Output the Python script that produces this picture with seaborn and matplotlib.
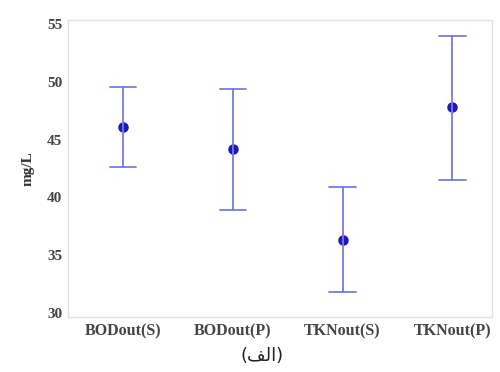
import matplotlib
matplotlib.use("Agg")
import matplotlib.pyplot as plt
import numpy as np
import pandas as pd
import seaborn as sns

# values (mg/L)
categories = ["BODout(S)", "BODout(P)", "TKNout(S)", "TKNout(P)"]
means = [46.1, 44.2, 36.3, 47.8]
lower = [42.6, 38.9, 31.8, 41.5]
upper = [49.6, 49.4, 40.9, 54.0]
y_ticks = [30, 35, 40, 45, 50, 55]

# long form: low / mean / high per group, median = mean, min..max = interval
rows = []
for cat, lo, m, hi in zip(categories, lower, means, upper):
    for v in (lo, m, hi):
        rows.append({"group": cat, "value": v})
df = pd.DataFrame(rows)

sns.set_style("white")
plt.rcParams["font.family"] = ["Liberation Serif", "DejaVu Serif"]

fig = plt.figure(figsize=(5.0, 3.72), dpi=100)
ax = fig.add_axes([0.136, 0.148, 0.848, 0.798])

sns.pointplot(data=df, x="group", y="value", order=categories,
              estimator=np.median, errorbar=lambda v: (v.min(), v.max()),
              linestyle="none", capsize=0.24, color="#1a1ab4",
              marker="o", markersize=5.5,
              err_kws={"color": "#7a7ae6", "linewidth": 1.3}, ax=ax)

ax.set_xlim(-0.5, 3.36)
ax.set_ylim(29.65, 55.35)
ax.set_yticks(y_ticks)
ax.set_yticklabels([str(t) for t in y_ticks])
ax.set_xlabel("")
ax.set_ylabel("mg/L", fontsize=11, fontweight="bold", color="#333333", labelpad=9)
ax.tick_params(axis="both", length=0, colors="#444444")
ax.tick_params(axis="x", pad=5, labelsize=11.5)
ax.tick_params(axis="y", pad=4, labelsize=11)
for lab in ax.get_xticklabels() + ax.get_yticklabels():
    lab.set_fontweight("bold")
for sp in ax.spines.values():
    sp.set_color("#e2e2e2")
    sp.set_linewidth(1.0)

# caption (Arabic presentation forms in visual order so it shapes correctly)
fig.text(0.525, 0.042, "(\ufed2\ufedf\ufe8d)", ha="center", va="center",
         fontsize=13, family=["DejaVu Sans"], color="#222222")

fig.savefig("out.png", dpi=100)
